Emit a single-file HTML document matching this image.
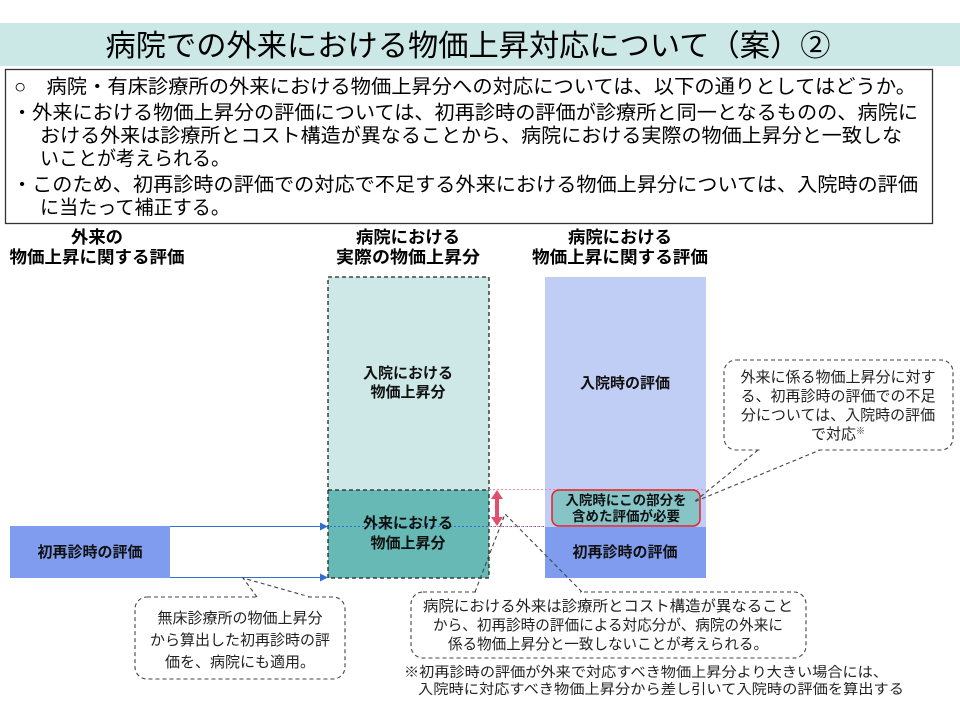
<!DOCTYPE html>
<html><head><meta charset="utf-8"><style>
body{margin:0;width:960px;height:720px;background:#fff;overflow:hidden;font-family:"Liberation Sans","Noto Sans CJK JP",sans-serif;}
svg text{font-family:"Liberation Sans","Noto Sans CJK JP",sans-serif;}
</style></head><body>
<svg width="960" height="720" viewBox="0 0 960 720" xmlns="http://www.w3.org/2000/svg">
<defs>
<marker id="ab" markerWidth="8" markerHeight="8" refX="7" refY="4" orient="auto" markerUnits="userSpaceOnUse"><path d="M0,0 L8,4 L0,8z" fill="#2e6fd0"/></marker>
</defs>
<rect x="0" y="23" width="960" height="43" fill="#cbe7e6"/>
<text x="468" y="56" font-size="30" text-anchor="middle" textLength="725" lengthAdjust="spacingAndGlyphs">病院での外来における物価上昇対応について（案）②</text>
<rect x="5.5" y="69.5" width="927" height="154" fill="#fff" stroke="#333" stroke-width="1.3"/>
<g font-size="19.5">
<text x="14" y="93" textLength="902" lengthAdjust="spacingAndGlyphs">○　病院・有床診療所の外来における物価上昇分への対応については、以下の通りとしてはどうか。</text>
<text x="12" y="119" textLength="906" lengthAdjust="spacingAndGlyphs">・外来における物価上昇分の評価については、初再診時の評価が診療所と同一となるものの、病院に</text>
<text x="40" y="142" textLength="862" lengthAdjust="spacingAndGlyphs">おける外来は診療所とコスト構造が異なることから、病院における実際の物価上昇分と一致しな</text>
<text x="40" y="165" textLength="190" lengthAdjust="spacingAndGlyphs">いことが考えられる。</text>
<text x="12" y="191" textLength="906" lengthAdjust="spacingAndGlyphs">・このため、初再診時の評価での対応で不足する外来における物価上昇分については、入院時の評価</text>
<text x="40" y="214" textLength="190" lengthAdjust="spacingAndGlyphs">に当たって補正する。</text>
</g>
<g font-size="17" font-weight="bold" text-anchor="middle">
<text x="97" y="243" textLength="52" lengthAdjust="spacingAndGlyphs">外来の</text><text x="97" y="263" textLength="175" lengthAdjust="spacingAndGlyphs">物価上昇に関する評価</text>
<text x="408" y="243" textLength="104" lengthAdjust="spacingAndGlyphs">病院における</text><text x="408" y="263" textLength="144" lengthAdjust="spacingAndGlyphs">実際の物価上昇分</text>
<text x="620" y="243" textLength="104" lengthAdjust="spacingAndGlyphs">病院における</text><text x="620" y="263" textLength="176" lengthAdjust="spacingAndGlyphs">物価上昇に関する評価</text>
</g>
<rect x="328" y="277" width="161" height="213" fill="#cde8e6"/>
<rect x="328" y="490" width="161" height="88" fill="#66b9b5"/>
<rect x="328" y="277" width="161" height="301" fill="none" stroke="#222" stroke-width="1.3" stroke-dasharray="4,3"/>
<line x1="328" y1="490" x2="489" y2="490" stroke="#222" stroke-width="1.3" stroke-dasharray="4,3"/>
<rect x="545" y="277" width="161" height="250" fill="#c0cdf5"/>
<rect x="545" y="527" width="161" height="51" fill="#7f9cef"/>
<rect x="10" y="526" width="160" height="52" fill="#7f9cef"/>
<line x1="170" y1="526.5" x2="327" y2="526.5" stroke="#2e6fd0" stroke-width="1" marker-end="url(#ab)"/>
<line x1="170" y1="577.5" x2="327" y2="577.5" stroke="#2e6fd0" stroke-width="1" marker-end="url(#ab)"/>
<line x1="330" y1="526.5" x2="545" y2="526.5" stroke="#2e6fd0" stroke-width="1" stroke-dasharray="2,2"/>
<line x1="489" y1="489.5" x2="706" y2="489.5" stroke="#f08aa0" stroke-width="1" stroke-dasharray="2,2"/>
<line x1="489" y1="526.5" x2="545" y2="526.5" stroke="#f08aa0" stroke-width="1" stroke-dasharray="2,2"/>
<line x1="497" y1="498" x2="497" y2="518" stroke="#e0506e" stroke-width="4"/>
<path d="M491,499 L497,490 L503,499z M491,517 L497,526 L503,517z" fill="#e0506e"/>
<rect x="552" y="490" width="148" height="36" rx="7" fill="#86c4c8" stroke="#e8202a" stroke-width="1.5"/>
<g font-size="15" font-weight="bold" text-anchor="middle" fill="#111">
<text x="90" y="557">初再診時の評価</text>
<text x="408" y="378">入院における</text><text x="408" y="397">物価上昇分</text>
<text x="408" y="528">外来における</text><text x="408" y="548">物価上昇分</text>
<text x="625" y="388">入院時の評価</text>
<text x="626" y="505" font-size="13.5">入院時にこの部分を</text>
<text x="626" y="521" font-size="13.5">含めた評価が必要</text>
<text x="625" y="557">初再診時の評価</text>
</g>
<g fill="#fff" stroke="#444" stroke-width="1.1" stroke-dasharray="4,3">
<rect x="135" y="597" width="210" height="82" rx="12"/>
<rect x="411" y="592" width="395" height="66" rx="12"/>
<rect x="724" y="360" width="229" height="90" rx="12"/>
</g>
<g fill="none" stroke="#444" stroke-width="1.1" stroke-dasharray="4,3">
<polyline points="257,597 243,578 310,597"/>
<polyline points="475,592 505,514 582,592"/>
<polyline points="758,450 694,502 820,450"/>
</g>
<line x1="259" y1="597" x2="308" y2="597" stroke="#fff" stroke-width="3"/>
<line x1="478" y1="592" x2="580" y2="592" stroke="#fff" stroke-width="3"/>
<line x1="760" y1="450" x2="818" y2="450" stroke="#fff" stroke-width="3"/>
<g font-size="15" text-anchor="middle" fill="#222">
<text x="240" y="623">無床診療所の物価上昇分</text>
<text x="240" y="645">から算出した初再診時の評</text>
<text x="240" y="667">価を、病院にも適用。</text>
<text x="608" y="611" textLength="370" lengthAdjust="spacingAndGlyphs">病院における外来は診療所とコスト構造が異なること</text>
<text x="608" y="630" textLength="350" lengthAdjust="spacingAndGlyphs">から、初再診時の評価による対応分が、病院の外来に</text>
<text x="608" y="649" textLength="320" lengthAdjust="spacingAndGlyphs">係る物価上昇分と一致しないことが考えられる。</text>
<text x="838" y="382">外来に係る物価上昇分に対す</text>
<text x="838" y="401">る、初再診時の評価での不足</text>
<text x="838" y="420">分については、入院時の評価</text>
<text x="838" y="439">で対応<tspan font-size="9" dy="-5">※</tspan></text>
</g>
<g font-size="14" fill="#222">
<text x="404" y="677" textLength="484" lengthAdjust="spacingAndGlyphs">※初再診時の評価が外来で対応すべき物価上昇分より大きい場合には、</text>
<text x="418" y="694" textLength="486" lengthAdjust="spacingAndGlyphs">入院時に対応すべき物価上昇分から差し引いて入院時の評価を算出する</text>
</g>
</svg>
</body></html>
